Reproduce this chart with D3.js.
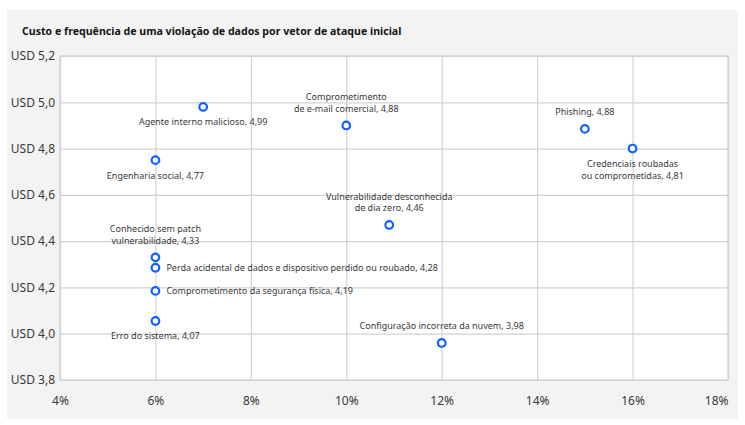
<!DOCTYPE html>
<html><head><meta charset="utf-8">
<script src="https://cdn.jsdelivr.net/npm/d3@7"></script>
<style>
html,body{margin:0;padding:0;background:#fff;}
svg{display:block;}
text{font-family:"Noto Sans",sans-serif;}
</style></head>
<body><svg id="c" width="745" height="425"></svg>
<script>
// ---- data ----
const categories = [
  "Agente interno malicioso",
  "Engenharia social",
  "Comprometimento\nde e-mail comercial",
  "Vulnerabilidade desconhecida\nde dia zero",
  "Phishing",
  "Credenciais roubadas\nou comprometidas",
  "Conhecido sem patch\nvulnerabilidade",
  "Perda acidental de dados e dispositivo perdido ou roubado",
  "Comprometimento da segurança física",
  "Erro do sistema",
  "Configuração incorreta da nuvem"
];
const frequency = [7, 6, 10, 10.9, 15, 16, 6, 6, 6, 6, 12];           // % of breaches
const cost      = [4.98, 4.75, 4.90, 4.47, 4.885, 4.80, 4.33, 4.285, 4.185, 4.055, 3.96]; // plotted
const costLabel = [4.99, 4.77, 4.88, 4.46, 4.88, 4.81, 4.33, 4.28, 4.19, 4.07, 3.98];     // reported
const labelSide = ["below","below","above","above","above","below","above","right","right","below","above"];
const xTicks = [4, 6, 8, 10, 12, 14, 16, 18];
const yTicks = [3.8, 4.0, 4.2, 4.4, 4.6, 4.8, 5.0, 5.2];
const title = "Custo e frequência de uma violação de dados por vetor de ataque inicial";

// ---- chart ----
const svg = d3.select("#c");
svg.append("rect").attr("x",7).attr("y",10).attr("width",731).attr("height",409).attr("fill","#f3f3f3");

const m = {left:60, right:728, top:56, bottom:380};
const x = d3.scaleLinear().domain([4,18]).range([m.left, m.right]);
const y = d3.scaleLinear().domain([3.8,5.2]).range([m.bottom, m.top]);

svg.append("text").attr("x",22).attr("y",35).attr("font-size",10.6).attr("font-weight","bold")
  .attr("fill","#161616").text(title);

svg.append("rect").attr("x",m.left).attr("y",m.top).attr("width",m.right-m.left).attr("height",m.bottom-m.top)
  .attr("fill","#fff");

const gridColor = "#cfd2d6";
const gx = svg.append("g").attr("transform",`translate(0,${m.bottom})`)
  .call(d3.axisBottom(x).tickValues(xTicks).tickSize(-(m.bottom-m.top)).tickPadding(16).tickFormat(d=>d+"%"));
const gy = svg.append("g").attr("transform",`translate(${m.left},0)`)
  .call(d3.axisLeft(y).tickValues(yTicks).tickSize(-(m.right-m.left)).tickPadding(5)
    .tickFormat(d=>"USD " + d3.format(".1f")(d).replace(".",",")));
[gx,gy].forEach(g=>{
  g.select(".domain").remove();
  g.selectAll(".tick line").attr("stroke",gridColor).attr("stroke-width",1.2);
  g.selectAll(".tick text").attr("fill","#393939").attr("font-size",12).attr("font-family","Noto Sans, sans-serif");
});
gx.selectAll(".tick text").filter(d=>d===18).attr("text-anchor","end").attr("dx",0);
svg.append("rect").attr("x",m.left).attr("y",m.top).attr("width",m.right-m.left).attr("height",m.bottom-m.top)
  .attr("fill","none").attr("stroke",gridColor).attr("stroke-width",1.2);

const pts = categories.map((c,i)=>({name:c, fx:frequency[i], cy:cost[i], lab:costLabel[i], side:labelSide[i]}));
const fmt = v => d3.format(".2f")(v).replace(".",",");

svg.append("g").selectAll("circle").data(pts).join("circle")
  .attr("cx",d=>x(d.fx)).attr("cy",d=>y(d.cy)).attr("r",3.8)
  .attr("fill","#fff").attr("stroke","#0f62fe").attr("stroke-width",2.2);

const lh = 11.5;
const lg = svg.append("g").attr("font-size",9).attr("font-family","Roboto, sans-serif").attr("fill","#393939");
pts.forEach(d=>{
  const lines = (d.name + ", " + fmt(d.lab)).split("\n");
  const cx = x(d.fx), cy = y(d.cy);
  let anchor="middle", tx=cx, y0;
  if (d.side==="below") y0 = cy + 18.5;
  else if (d.side==="above") y0 = cy - 13.5 - (lines.length-1)*lh;
  else { anchor="start"; tx = cx + 11; y0 = cy + 3.5; }
  lines.forEach((l,k)=>lg.append("text").attr("font-family","Roboto, sans-serif")
    .attr("text-anchor",anchor).attr("x",tx).attr("y",y0+k*lh).text(l));
});
</script></body></html>
